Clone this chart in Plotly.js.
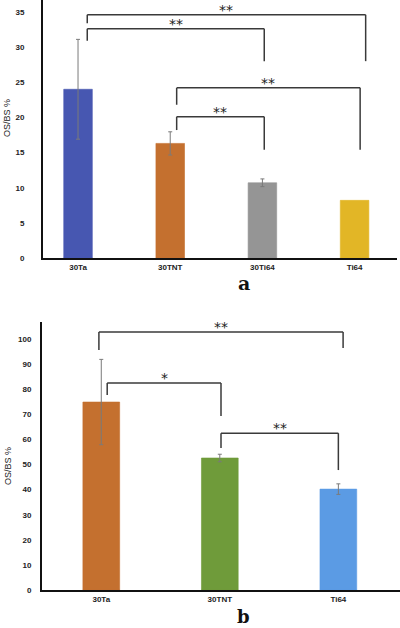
<!DOCTYPE html>
<html>
<head>
<meta charset="utf-8">
<script src="https://cdn.plot.ly/plotly-3.0.1.min.js"></script>
<style>html,body{margin:0;padding:0;background:#fff}#chart{width:400px;height:628px}</style>
</head>
<body>
<div id="chart"></div>
<script>
// Panel a data
const catsA = ['30Ta', '30TNT', '30Ti64', 'Ti64'];
const valsA = [24.0, 16.3, 10.7, 8.2];
const errA = [7.1, 1.65, 0.55, NaN];
const colorsA = ['#4757B1', '#C4702F', '#959595', '#E2B626'];
const ticksA = [0, 5, 10, 15, 20, 25, 30, 35];
// Panel a comparisons: [left cat, right cat], left foot, top, right foot, label
const pairsA = [[0, 2], [0, 3], [1, 3], [1, 2]];
const leftFootA = [30.9, 33.4, 21.8, 18.2];
const topA = [32.6, 34.6, 24.2, 20.1];
const rightFootA = [28.0, 28.0, 15.4, 15.4];
const sigA = ['**', '**', '**', '**'];

// Panel b data
const catsB = ['30Ta', '30TNT', 'Ti64'];
const valsB = [74.9, 52.6, 40.2];
const errB = [17.0, 1.5, 2.1];
const colorsB = ['#C4702F', '#6F9B3A', '#5B9BE4'];
const ticksB = [0, 10, 20, 30, 40, 50, 60, 70, 80, 90, 100];
const pairsB = [[0, 2], [0, 1], [1, 2]];
const leftFootB = [95.6, 77.7, 56.6];
const topB = [102.8, 82.5, 62.5];
const rightFootB = [96.4, 69.3, 47.8];
const sigB = ['**', '*', '**'];

const H = 628, W = 400;
const tickFont = {family: 'Liberation Sans, Arial, sans-serif', size: 8, color: '#222', weight: 'bold'};

function barTrace(cats, vals, err, colors, xa, ya) {
  return {
    type: 'bar', x: cats, y: vals, xaxis: xa, yaxis: ya,
    width: 0.31,
    marker: {color: colors, line: {color: colors.map(c => c + '99'), width: 1}},
    error_y: {type: 'data', array: err, visible: true, color: '#7a7a7a', thickness: 1, width: 2},
    hoverinfo: 'none'
  };
}

const shapes = [];
const annotations = [];
function addBrackets(pairs, lf, tp, rf, sig, xr, yr, lOff, rOff) {
  pairs.forEach((p, i) => {
    const x0 = p[0] + lOff[i], x1 = p[1] + rOff[i];
    const line = {color: '#3a3a3a', width: 1.5};
    shapes.push({type: 'line', xref: xr, yref: yr, x0: x0, x1: x0, y0: lf[i], y1: tp[i], line});
    shapes.push({type: 'line', xref: xr, yref: yr, x0: x0, x1: x1, y0: tp[i], y1: tp[i], line});
    shapes.push({type: 'line', xref: xr, yref: yr, x0: x1, x1: x1, y0: tp[i], y1: rf[i], line});
    annotations.push({xref: xr, yref: yr, x: (x0 + x1) / 2, y: tp[i], text: sig[i], showarrow: false,
      yanchor: 'bottom', yshift: -5, font: {family: 'DejaVu Sans, sans-serif', size: 14, color: '#222'}});
  });
}
addBrackets(pairsA, leftFootA, topA, rightFootA, sigA, 'x', 'y', [0.1, 0.1, 0.07, 0.07], [0.02, 0.12, 0.06, 0.02]);
addBrackets(pairsB, leftFootB, topB, rightFootB, sigB, 'x2', 'y2', [-0.02, 0.05, 0.01], [0.04, 0.01, 0.0]);

const titleFont = {family: 'Liberation Sans, Arial, sans-serif', size: 9, color: '#222'};
annotations.push({xref: 'paper', yref: 'paper', x: 7 / W, y: 1 - 118 / H, xanchor: 'center', yanchor: 'middle',
  text: 'OS/BS %', textangle: -90, showarrow: false, font: titleFont});
annotations.push({xref: 'paper', yref: 'paper', x: 8 / W, y: 1 - 466 / H, xanchor: 'center', yanchor: 'middle',
  text: 'OS/BS %', textangle: -90, showarrow: false, font: titleFont});
annotations.push({xref: 'paper', yref: 'paper', x: 244 / W, y: 1 - 283 / H, xanchor: 'center', yanchor: 'middle', text: 'a',
  showarrow: false, font: {family: 'DejaVu Serif, Liberation Serif, serif', size: 19, color: '#111', weight: 'bold'}});
annotations.push({xref: 'paper', yref: 'paper', x: 243 / W, y: 0, xanchor: 'center', yanchor: 'bottom', text: 'b',
  showarrow: false, borderpad: 0, font: {family: 'DejaVu Serif, Liberation Serif, serif', size: 18, color: '#111', weight: 'bold'}});

const layout = {
  width: W, height: H,
  margin: {l: 0, r: 0, t: 0, b: 0},
  paper_bgcolor: '#fff', plot_bgcolor: '#fff',
  showlegend: false,
  bargap: 0,
  xaxis: {domain: [43 / W, 397 / W], anchor: 'y', type: 'category', range: [-0.38, 3.46],
    showline: true, linecolor: '#111', linewidth: 2, showgrid: false, zeroline: false,
    ticks: '', tickfont: tickFont, fixedrange: true},
  yaxis: {domain: [1 - 258 / H, 1], anchor: 'x', range: [0, 36.7],
    tickvals: ticksA, showline: true, linecolor: '#111', linewidth: 2, showgrid: false, zeroline: false,
    ticks: '', ticklabelstandoff: 15, tickfont: tickFont, fixedrange: true},
  xaxis2: {domain: [42 / W, 1], anchor: 'y2', type: 'category', range: [-0.5, 2.52],
    showline: true, linecolor: '#111', linewidth: 2, showgrid: false, zeroline: false,
    ticks: '', tickfont: tickFont, fixedrange: true},
  yaxis2: {domain: [1 - 590 / H, 1 - 322 / H], anchor: 'x2', range: [0, 106.8],
    tickvals: ticksB, showline: true, linecolor: '#111', linewidth: 2, showgrid: false, zeroline: false,
    ticks: '', ticklabelstandoff: 7, tickfont: tickFont, fixedrange: true},
  shapes, annotations
};

Plotly.newPlot('chart', [
  barTrace(catsA, valsA, errA, colorsA, 'x', 'y'),
  barTrace(catsB, valsB, errB, colorsB, 'x2', 'y2')
], layout, {staticPlot: true});
</script>
</body>
</html>
